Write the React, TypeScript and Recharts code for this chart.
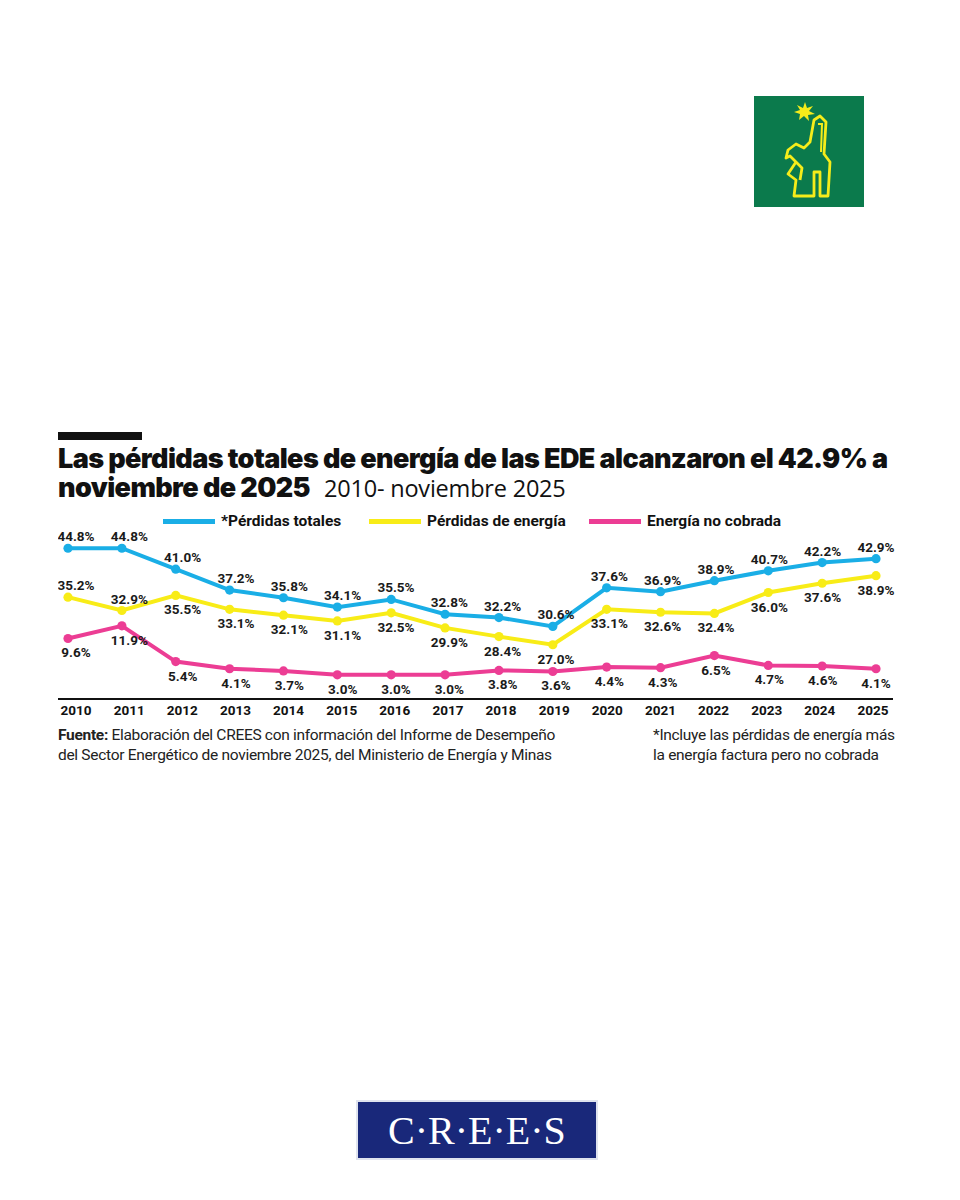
import React from 'react'
import { LineChart, Line, XAxis, YAxis, LabelList } from 'recharts'

const years = ['2010', '2011', '2012', '2013', '2014', '2015', '2016', '2017', '2018', '2019', '2020', '2021', '2022', '2023', '2024', '2025']
const perdidasTotales = [44.8, 44.8, 41.0, 37.2, 35.8, 34.1, 35.5, 32.8, 32.2, 30.6, 37.6, 36.9, 38.9, 40.7, 42.2, 42.9]
const perdidasEnergia = [35.2, 32.9, 35.5, 33.1, 32.1, 31.1, 32.5, 29.9, 28.4, 27.0, 33.1, 32.6, 32.4, 36.0, 37.6, 38.9]
const energiaNoCobrada = [9.6, 11.9, 5.4, 4.1, 3.7, 3.0, 3.0, 3.0, 3.8, 3.6, 4.4, 4.3, 6.5, 4.7, 4.6, 4.1]
// yellow labels that sit above their point instead of below
const energiaLabelsAbove = [0, 1]

const BLUE = '#1aaee6'
const YELLOW = '#f8ec17'
const PINK = '#ec3d94'
const FONT = 'Roboto, "Noto Sans", sans-serif'

const data = years.map((year, i) => ({
  year,
  totales: perdidasTotales[i],
  energia: perdidasEnergia[i],
  noCobrada: energiaNoCobrada[i],
}))

// each series is laid out on its own band, so it gets its own hidden y axis
const makeLabel = (place: (i: number) => 'above' | 'below') => (props: any) => {
  const { x, y, value, index } = props
  const shift = 8 * (1 - index / (years.length - 1))
  const dy = place(index) === 'above' ? -12 : 14
  return (
    <text
      x={x + shift}
      y={y + dy}
      textAnchor="middle"
      dominantBaseline="central"
      fontFamily={FONT}
      fontWeight={700}
      fontSize={13.5}
      fill="#1a1a1a"
    >
      {value.toFixed(1)}%
    </text>
  )
}

const legendItems = [
  { color: BLUE, text: '*Pérdidas totales', left: 163 },
  { color: YELLOW, text: 'Pérdidas de energía', left: 369 },
  { color: PINK, text: 'Energía no cobrada', left: 589 },
]

function Mascot() {
  return (
    <svg width={110} height={111} viewBox="0 0 110 111">
      <rect width={110} height={111} fill="#0b7a4c" />
      <polygon
        points="51,6 53,12 59,10 55,15 61,18 54,19 55,25 50,20 45,24 46,18 40,16 46,14 43,9 49,12"
        fill="#f5ec1a"
      />
      <path
        d="M60,24 L66,20 L72,26 L70,58 L76,66 L74,100 L66,100 L66,76 L60,76 L60,100 L40,100 L42,84 L34,78 L42,66 L36,60 L32,62 L34,54 L42,48 L50,52 L56,46 L60,24 Z M42,66 L48,72 L46,84"
        fill="none"
        stroke="#f5ec1a"
        strokeWidth={2.8}
        strokeLinejoin="round"
      />
      <path d="M64,28 L68,28 L67,56" fill="none" stroke="#f5ec1a" strokeWidth={2} />
    </svg>
  )
}

const noteStyle: React.CSSProperties = {
  position: 'absolute',
  top: 725,
  fontFamily: FONT,
  fontSize: 15.5,
  lineHeight: '20px',
  letterSpacing: -0.3,
  color: '#222',
}

export default function App() {
  return (
    <div style={{ position: 'absolute', top: 0, left: 0, width: 960, height: 1200, background: '#fff' }}>
      <div style={{ position: 'absolute', left: 754, top: 96 }}>
        <Mascot />
      </div>

      <div style={{ position: 'absolute', left: 58, top: 432, width: 84, height: 8, background: '#111' }} />
      <div
        style={{
          position: 'absolute',
          left: 58,
          top: 444,
          width: 890,
          fontFamily: 'Inter, sans-serif',
          fontWeight: 900,
          fontSize: 27,
          lineHeight: '29px',
          letterSpacing: -0.6,
          color: '#111',
          whiteSpace: 'nowrap',
        }}
      >
        Las pérdidas totales de energía de las EDE alcanzaron el 42.9% a
        <br />
        noviembre de 2025
        <span style={{ fontFamily: '"Open Sans", sans-serif', fontWeight: 400, fontSize: 23.5, letterSpacing: -0.2, marginLeft: 14 }}>
          2010- noviembre 2025
        </span>
      </div>

      {legendItems.map((item) => (
        <div key={item.text} style={{ position: 'absolute', left: item.left, top: 512, display: 'flex', alignItems: 'center', gap: 6 }}>
          <div style={{ width: 52, height: 5, background: item.color }} />
          <span style={{ fontFamily: FONT, fontWeight: 700, fontSize: 15.5, color: '#111' }}>{item.text}</span>
        </div>
      ))}

      <div style={{ position: 'absolute', left: 58, top: 505 }}>
        <LineChart width={875} height={224} data={data} margin={{ top: 35, right: 40, bottom: 0, left: 0 }}>
          <XAxis xAxisId="pts" dataKey="year" hide padding={{ left: 10, right: 17 }} />
          <XAxis
            xAxisId="lab"
            dataKey="year"
            height={30}
            padding={{ left: 18, right: 20 }}
            tickLine={false}
            tickSize={0}
            tickMargin={6}
            interval={0}
            axisLine={{ stroke: '#111', strokeWidth: 2.2 }}
            tick={{ fontFamily: FONT, fontWeight: 700, fontSize: 13.5, fill: '#111' }}
          />
          <YAxis yAxisId="tot" hide domain={[17.4, 46.3]} />
          <YAxis yAxisId="ene" hide domain={[17.65, 45.05]} />
          <YAxis yAxisId="noc" hide domain={[-1.4, 27.5]} />

          <Line
            xAxisId="pts"
            yAxisId="noc"
            dataKey="noCobrada"
            stroke={PINK}
            strokeWidth={4}
            dot={{ r: 4.6, fill: PINK, stroke: PINK, strokeWidth: 0 }}
            isAnimationActive={false}
          >
            <LabelList dataKey="noCobrada" content={makeLabel(() => 'below')} />
          </Line>
          <Line
            xAxisId="pts"
            yAxisId="ene"
            dataKey="energia"
            stroke={YELLOW}
            strokeWidth={4}
            dot={{ r: 4.6, fill: YELLOW, stroke: YELLOW, strokeWidth: 0 }}
            isAnimationActive={false}
          >
            <LabelList
              dataKey="energia"
              content={makeLabel((i) => (energiaLabelsAbove.includes(i) ? 'above' : 'below'))}
            />
          </Line>
          <Line
            xAxisId="pts"
            yAxisId="tot"
            dataKey="totales"
            stroke={BLUE}
            strokeWidth={4}
            dot={{ r: 4.6, fill: BLUE, stroke: BLUE, strokeWidth: 0 }}
            isAnimationActive={false}
          >
            <LabelList dataKey="totales" content={makeLabel(() => 'above')} />
          </Line>
        </LineChart>
      </div>

      <div style={{ ...noteStyle, left: 58 }}>
        <b>Fuente:</b> Elaboración del CREES con información del Informe de Desempeño
        <br />
        del Sector Energético de noviembre 2025, del Ministerio de Energía y Minas
      </div>
      <div style={{ ...noteStyle, left: 653 }}>
        *Incluye las pérdidas de energía más
        <br />
        la energía factura pero no cobrada
      </div>

      <div
        style={{
          position: 'absolute',
          left: 356,
          top: 1100,
          width: 238,
          height: 56,
          background: '#19287a',
          border: '2px solid #dfe3ee',
          display: 'flex',
          alignItems: 'center',
          justifyContent: 'center',
          color: '#fff',
          fontFamily: '"Liberation Serif", "DejaVu Serif", serif',
          fontSize: 40,
          letterSpacing: 0,
        }}
      >
        C·R·E·E·S
      </div>
    </div>
  )
}
